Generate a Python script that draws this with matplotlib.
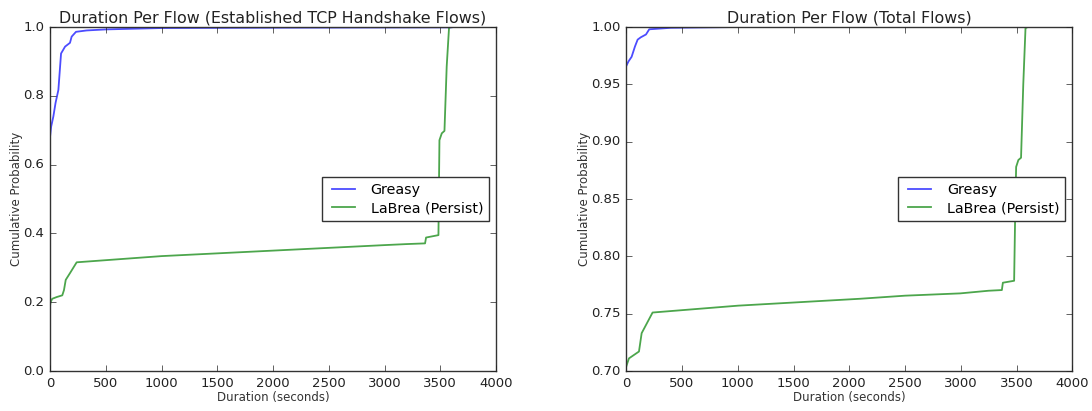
import numpy as np
import matplotlib
matplotlib.use("Agg")
import matplotlib.pyplot as plt

plt.style.use('classic')

# Established TCP handshake flows (left)
est_greasy_x = [0, 10, 30, 50, 75, 99, 135, 179, 194, 233, 329, 500, 1000, 2000, 3600]
est_greasy_y = [0.68, 0.71, 0.74, 0.78, 0.817, 0.923, 0.943, 0.954, 0.972, 0.986, 0.99, 0.993, 0.997, 0.998, 0.999]

est_labrea_x = [0, 5, 20, 60, 110, 125, 141, 180, 239, 1000, 2000, 2500, 3000, 3200, 3363, 3372, 3483, 3492, 3513, 3537, 3557, 3578, 3600]
est_labrea_y = [0.19, 0.20, 0.21, 0.215, 0.22, 0.235, 0.265, 0.285, 0.316, 0.334, 0.35, 0.358, 0.366, 0.369, 0.371, 0.388, 0.395, 0.671, 0.691, 0.698, 0.885, 0.998, 1.0]

# Total flows (right)
tot_greasy_x = [0, 20, 48, 78, 102, 130, 177, 206, 400, 1000, 3600]
tot_greasy_y = [0.966, 0.970, 0.974, 0.983, 0.989, 0.991, 0.9935, 0.998, 0.9993, 1.0, 1.0]

tot_labrea_x = [0, 24, 114, 138, 236, 1004, 2096, 2500, 2995, 3248, 3368, 3377, 3478, 3487, 3496, 3516, 3540, 3560, 3580, 3600]
tot_labrea_y = [0.704, 0.711, 0.717, 0.733, 0.751, 0.757, 0.763, 0.7657, 0.7677, 0.770, 0.7706, 0.777, 0.7787, 0.8345, 0.878, 0.884, 0.886, 0.95, 0.999, 1.0]

fig = plt.figure(figsize=(10.92, 4.11), dpi=100, facecolor='white')
ax1 = fig.add_axes([0.0458, 0.0973, 0.4085, 0.8370])
ax2 = fig.add_axes([0.5735, 0.0973, 0.4085, 0.8370])

panels = [
    (ax1, est_greasy_x, est_greasy_y, est_labrea_x, est_labrea_y,
     'Duration Per Flow (Established TCP Handshake Flows)', (0.0, 1.0), np.arange(0, 1.01, 0.2), '%.1f'),
    (ax2, tot_greasy_x, tot_greasy_y, tot_labrea_x, tot_labrea_y,
     'Duration Per Flow (Total Flows)', (0.7, 1.0), np.arange(0.70, 1.001, 0.05), '%.2f'),
]

for ax, gx, gy, lx, ly, title, ylim, yticks, fmt in panels:
    ax.plot(gx, gy, color='b', alpha=0.7, lw=1.3, label='Greasy')
    ax.plot(lx, ly, color='g', alpha=0.7, lw=1.3, label='LaBrea (Persist)')
    ax.set_xlim(0, 4000)
    ax.set_ylim(*ylim)
    ax.set_xticks(np.arange(0, 4001, 500))
    ax.set_yticks(yticks)
    ax.set_yticklabels([fmt % v for v in yticks])
    ax.tick_params(labelsize=9.5, direction='in', colors='#222222', labelcolor='#222222')
    ax.set_title(title, fontsize=11.4, color='#222222', pad=3)
    ax.set_xlabel('Duration (seconds)', fontsize=8.5, color='#333333', labelpad=1)
    ax.set_ylabel('Cumulative Probability', fontsize=8.5, color='#333333', labelpad=0)
    for s in ax.spines.values():
        s.set_color('#333333')
    leg = ax.legend(loc='center right', bbox_to_anchor=(0.984, 0.5), borderaxespad=0,
                    fontsize=10.3, fancybox=False, handlelength=2.2, borderpad=0.4,
                    labelspacing=0.3)
    leg.get_frame().set_edgecolor('#333333')

fig.savefig('out.png', dpi=100, facecolor='white')
